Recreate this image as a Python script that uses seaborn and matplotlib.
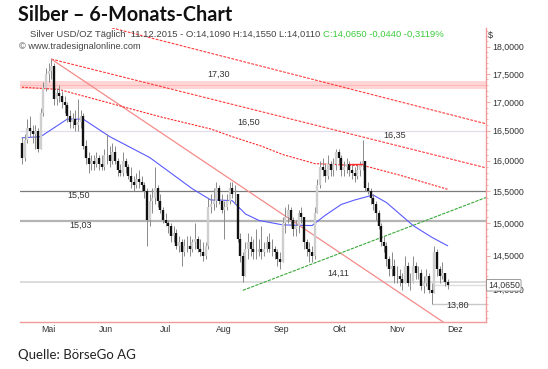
import numpy as np
import pandas as pd
import matplotlib
matplotlib.use('Agg')
import matplotlib.pyplot as plt
import seaborn as sns
from matplotlib.ticker import FixedLocator, NullFormatter, FuncFormatter

sns.set_style('white')
plt.rcParams['font.family'] = ['Liberation Sans', 'DejaVu Sans']

# daily silver bars, 01.05.2015 - 11.12.2015
dates = pd.bdate_range('2015-05-01', '2015-12-11')

highs = [
    # Mai
    16.40, 16.45, 16.70, 16.75, 16.60, 16.60, 16.55, 16.90, 17.35, 17.60, 17.70,
    17.77, 17.70, 17.25, 17.30, 17.20, 17.10, 17.00, 16.85, 16.80, 16.85,
    # Jun
    17.05, 16.85, 16.80, 16.35, 16.15, 16.10, 16.10, 16.15, 16.10, 16.10, 16.20,
    16.45, 16.25, 16.30, 16.25, 16.05, 15.95, 16.15, 16.05, 15.95, 15.90, 15.75,
    # Jul
    15.80, 15.85, 15.75, 15.65, 15.55, 15.45, 15.55, 15.90, 15.60, 15.45, 15.25,
    15.15, 15.05, 15.00, 14.95, 14.90, 14.80, 14.75, 14.75, 14.80, 14.80, 14.75, 15.00,
    # Aug
    14.80, 14.75, 14.70, 14.70, 15.40, 15.45, 15.55, 15.65, 15.60, 15.45, 15.35,
    15.45, 15.65, 15.65, 15.60, 15.45, 14.85, 14.55, 14.70, 14.85, 14.80,
    # Sep
    14.75, 14.90, 14.75, 14.95, 14.70, 14.80, 14.85, 14.75, 14.65, 14.60, 14.55,
    15.10, 15.25, 15.30, 15.25, 15.10, 15.05, 15.20, 15.25, 15.10, 14.75, 14.70,
    # Okt
    14.65, 15.25, 15.70, 16.00, 16.05, 15.95, 16.10, 16.00, 16.05, 16.20, 16.20,
    16.10, 16.00, 16.05, 16.00, 15.95, 15.90, 15.95, 16.00, 16.35, 16.00, 15.65,
    # Nov
    15.55, 15.45, 15.35, 15.20, 15.00, 14.80, 14.70, 14.50, 14.55, 14.45, 14.35,
    14.30, 14.25, 14.50, 14.40, 14.25, 14.50, 14.40, 14.35, 14.30, 14.20,
    # Dez
    14.30, 14.25, 14.10, 14.65, 14.60, 14.35, 14.40, 14.25, 14.155,
]
lows = [
    15.95, 16.00, 16.30, 16.40, 16.30, 16.20, 16.15, 16.20, 16.75, 17.20, 17.35,
    17.40, 16.95, 16.95, 17.00, 16.90, 16.80, 16.65, 16.55, 16.55, 16.50,
    16.50, 16.55, 16.20, 15.95, 15.80, 15.85, 15.85, 15.90, 15.85, 15.85, 15.85,
    15.95, 15.90, 15.95, 15.95, 15.75, 15.75, 15.75, 15.80, 15.70, 15.55, 15.50,
    15.55, 15.55, 15.50, 15.40, 14.65, 14.95, 15.15, 15.30, 15.25, 15.15, 15.00,
    14.95, 14.85, 14.70, 14.70, 14.60, 14.55, 14.35, 14.50, 14.55, 14.50, 14.55, 14.60,
    14.55, 14.50, 14.42, 14.45, 14.60, 15.15, 15.20, 15.25, 15.30, 15.15, 14.75,
    15.20, 15.30, 15.40, 15.30, 14.70, 14.40, 14.11, 14.20, 14.45, 14.50,
    14.45, 14.45, 14.50, 14.45, 14.50, 14.55, 14.55, 14.50, 14.45, 14.35, 14.30,
    14.40, 14.85, 15.00, 14.95, 14.80, 14.80, 14.85, 15.00, 14.60, 14.50, 14.40,
    14.40, 14.45, 15.15, 15.55, 15.75, 15.65, 15.70, 15.75, 15.75, 15.85, 15.95,
    15.75, 15.75, 15.80, 15.75, 15.70, 15.65, 15.70, 15.75, 15.85, 15.50, 15.45,
    15.30, 15.20, 15.05, 14.90, 14.65, 14.55, 14.35, 14.20, 14.20, 14.10, 14.10,
    14.05, 14.00, 14.10, 14.05, 14.00, 14.10, 14.15, 14.15, 14.00, 13.95,
    14.05, 13.95, 13.80, 13.95, 14.20, 14.10, 14.15, 14.05, 14.011,
]
closes = [
    16.05, 16.35, 16.55, 16.50, 16.45, 16.50, 16.20, 16.80, 17.25, 17.50, 17.55,
    17.65, 17.05, 17.15, 17.10, 17.00, 16.95, 16.75, 16.65, 16.70, 16.60,
    16.65, 16.75, 16.25, 16.05, 15.95, 16.00, 15.95, 16.05, 15.95, 15.90, 16.10,
    16.10, 16.00, 16.15, 16.00, 15.85, 15.80, 16.00, 15.90, 15.75, 15.65, 15.60,
    15.70, 15.65, 15.60, 15.50, 15.05, 15.35, 15.40, 15.55, 15.35, 15.20, 15.05,
    15.00, 14.95, 14.80, 14.85, 14.65, 14.70, 14.55, 14.65, 14.65, 14.60, 14.70, 14.75,
    14.60, 14.55, 14.50, 14.65, 15.25, 15.30, 15.35, 15.55, 15.35, 15.20, 15.25,
    15.35, 15.55, 15.45, 15.45, 14.75, 14.50, 14.20, 14.60, 14.70, 14.60,
    14.55, 14.55, 14.60, 14.55, 14.60, 14.70, 14.60, 14.60, 14.55, 14.45, 14.40,
    15.00, 15.10, 15.20, 15.05, 14.90, 14.95, 15.15, 15.10, 14.70, 14.60, 14.55,
    14.50, 15.15, 15.60, 15.90, 15.85, 15.75, 15.95, 15.85, 15.95, 16.15, 16.05,
    15.85, 15.90, 15.95, 15.85, 15.80, 15.75, 15.85, 15.95, 16.00, 15.55, 15.50,
    15.40, 15.30, 15.15, 14.95, 14.70, 14.65, 14.45, 14.30, 14.35, 14.20, 14.20,
    14.15, 14.10, 14.35, 14.10, 14.10, 14.35, 14.25, 14.25, 14.05, 14.10,
    14.20, 14.00, 13.95, 14.55, 14.30, 14.20, 14.25, 14.109, 14.065,
]
first_open = 16.30
opens = [first_open] + closes[:-1]

# moving averages (bar index, price)
ma50_idx = [0, 7, 17, 23, 33, 48, 64, 71, 74, 79, 84, 89, 98, 109, 114, 120, 125, 132, 137, 147, 154, 160]
ma50_val = [16.38, 16.40, 16.70, 16.70, 16.40, 16.05, 15.54, 15.36, 15.36, 15.35, 15.14, 15.04,
            14.97, 14.96, 15.12, 15.29, 15.36, 15.44, 15.32, 14.96, 14.78, 14.65]
ma200_idx = [0, 14, 52, 71, 79, 90, 98, 110, 129, 142, 160]
ma200_val = [17.26, 17.22, 16.74, 16.53, 16.40, 16.24, 16.10, 15.95, 15.91, 15.76, 15.53]

# trend lines (bar index, price)
line_a = ([29.3, 174.4], [18.41, 16.62])
line_b = ([11, 174.4], [17.77, 15.88])
line_e = ([11, 158.3], [17.77, 13.54])
line_green = ([83, 174.4], [13.99, 15.40])

levels = {'17,30': 17.30, '16,50': 16.50, '15,50': 15.50, '15,03': 15.03, '14,11': 14.11, '13,80': 13.80}
label_pos = {'17,30': (73.7, 17.49), '16,50': (85, 16.64), '16,35': (140.2, 16.43),
             '15,50': (21.4, 15.43), '15,03': (22.2, 14.97), '14,11': (118.8, 14.24),
             '13,80': (163.9, 13.77)}
month_names = ['Mai', 'Jun', 'Jul', 'Aug', 'Sep', 'Okt', 'Nov', 'Dez']
yticks = [14.0, 14.5, 15.0, 15.5, 16.0, 16.5, 17.0, 17.5, 18.0]

W, H = 548, 369
fig = plt.figure(figsize=(W / 100, H / 100), dpi=100)
ax = fig.add_axes([20 / W, 1 - 322 / H, (486 - 20) / W, (322 - 28) / H])

x0, x1 = -0.75, 174.4
ax.set_xlim(x0, x1)
ax.set_yscale('log')
ax.set_ylim(13.54, 18.35)

# horizontal levels
ax.axhspan(17.22, 17.37, color='#ffd6d6', lw=0, zorder=1)
ax.axhline(17.30, color='#ffb8b8', lw=0.8, zorder=1)
ax.axhline(levels['16,50'], color='#e4dcea', lw=0.9, zorder=1)
ax.axhline(levels['15,50'], color='#7a7a7a', lw=0.9, zorder=1)
ax.axhline(levels['15,03'], color='#b4b4b4', lw=1.6, zorder=1)
ax.axhline(levels['14,11'], color='#d6d6d6', lw=1.2, zorder=1)
ax.hlines(closes[-1], 154, x1, color='#dddddd', lw=1.0, zorder=1)
ax.hlines(levels['13,80'], 154, x1, color='#c8c8c8', lw=1.0, zorder=1)
ax.hlines(15.95, 123, 128, color='#ff3030', lw=1.0, zorder=4)

# trend lines
ax.plot(*line_a, color='#ff3b3b', lw=0.8, ls=(0, (2.5, 1.2)), zorder=2)
ax.plot(*line_b, color='#ff3b3b', lw=0.8, ls=(0, (2.5, 1.2)), zorder=2)
ax.plot(*line_e, color='#f58a8a', lw=0.9, zorder=2)
ax.plot(*line_green, color='#3aa83a', lw=0.8, ls=(0, (3, 1)), zorder=2)

# moving averages
sns.lineplot(x=ma200_idx, y=ma200_val, ax=ax, color='#ff2a2a', lw=0.8, linestyle=(0, (2, 1.2)), zorder=2)
sns.lineplot(x=ma50_idx, y=ma50_val, ax=ax, color='#5a5aff', lw=0.8, zorder=2)

# candles
idx = np.arange(len(closes))
o = np.array(opens)
c = np.array(closes)
up = c >= o
ax.vlines(idx, lows, highs, color='#8a8a8a', lw=0.7, zorder=3)
ax.vlines(idx[up], o[up], c[up], color='#cfcfcf', lw=1.7, zorder=3)
ax.vlines(idx[~up], c[~up], o[~up], color='#111111', lw=1.7, zorder=3)

for txt, (xx, yy) in label_pos.items():
    ax.text(xx, yy, txt, fontsize=6.5, color='#333333', ha='center', va='center', zorder=5)

# axes styling
for s in ['left', 'top']:
    ax.spines[s].set_visible(False)
for s in ['right', 'bottom']:
    ax.spines[s].set_color('#f29a9a')
    ax.spines[s].set_linewidth(1.0)

ax.yaxis.tick_right()
ax.yaxis.set_major_locator(FixedLocator(yticks))
ax.yaxis.set_major_formatter(FuncFormatter(lambda v, p: f'{v:.4f}'.replace('.', ',')))
ax.yaxis.set_minor_locator(FixedLocator(np.arange(13.6, 18.4, 0.1)))
ax.yaxis.set_minor_formatter(NullFormatter())
ax.tick_params(axis='y', which='major', length=3, width=0.6, color='#f29a9a',
               labelsize=6.3, labelcolor='#333333', pad=1.5)
ax.tick_params(axis='y', which='minor', length=1.5, width=0.5, color='#f29a9a')

month = dates.to_period('M')
starts = [0] + [i for i in range(1, len(dates)) if month[i] != month[i - 1]]
ends = starts[1:] + [x1]
centers = [(a + b) / 2 - 0.5 for a, b in zip(starts, ends)]
ax.set_xticks(starts)
ax.set_xticklabels([''] * len(starts))
ax.set_xticks(centers, minor=True)
ax.set_xticklabels(month_names, minor=True)
ax.tick_params(axis='x', which='major', length=3, width=0.6, color='#666666', direction='out')
ax.tick_params(axis='x', which='minor', length=0, labelsize=6.3, labelcolor='#333333', pad=2)
ax.set_xlabel('')
ax.set_ylabel('')

ax.text(1.004, 14.065, '14,0650', transform=ax.get_yaxis_transform(), fontsize=6.3,
        color='#333333', ha='left', va='center', zorder=6,
        bbox=dict(boxstyle='round,pad=0.15', fc='white', ec='#8a8a8a', lw=0.6))
fig.text(488 / W, 1 - 38 / H, '$', fontsize=6.5, color='#333333', ha='left', va='baseline')

# header and footer
fig.text(18 / W, 1 - 21 / H, 'Silber – 6-Monats-Chart', fontsize=14.2, fontweight='bold',
         family=['Lato', 'DejaVu Sans'], color='#111111', va='baseline')
t = fig.text(30 / W, 1 - 37 / H, 'Silver USD/OZ Täglich  11.12.2015 - O:14,1090 H:14,1550 L:14,0110 ',
             fontsize=6.8, color='#444444', va='baseline')
fig.canvas.draw()
bb = t.get_window_extent()
fig.text(bb.x1 / W, 1 - 37 / H, 'C:14,0650 -0,0440 -0,3119%', fontsize=6.8,
         color='#3ccc3c', va='baseline')
fig.text(19 / W, 1 - 49 / H, '© www.tradesignalonline.com', fontsize=6.7, color='#444444', va='baseline')
fig.text(18 / W, 1 - 359 / H, 'Quelle: BörseGo AG', fontsize=9.5, family=['Lato', 'DejaVu Sans'],
         color='#222222', va='baseline')

fig.savefig('out.png', dpi=100)
